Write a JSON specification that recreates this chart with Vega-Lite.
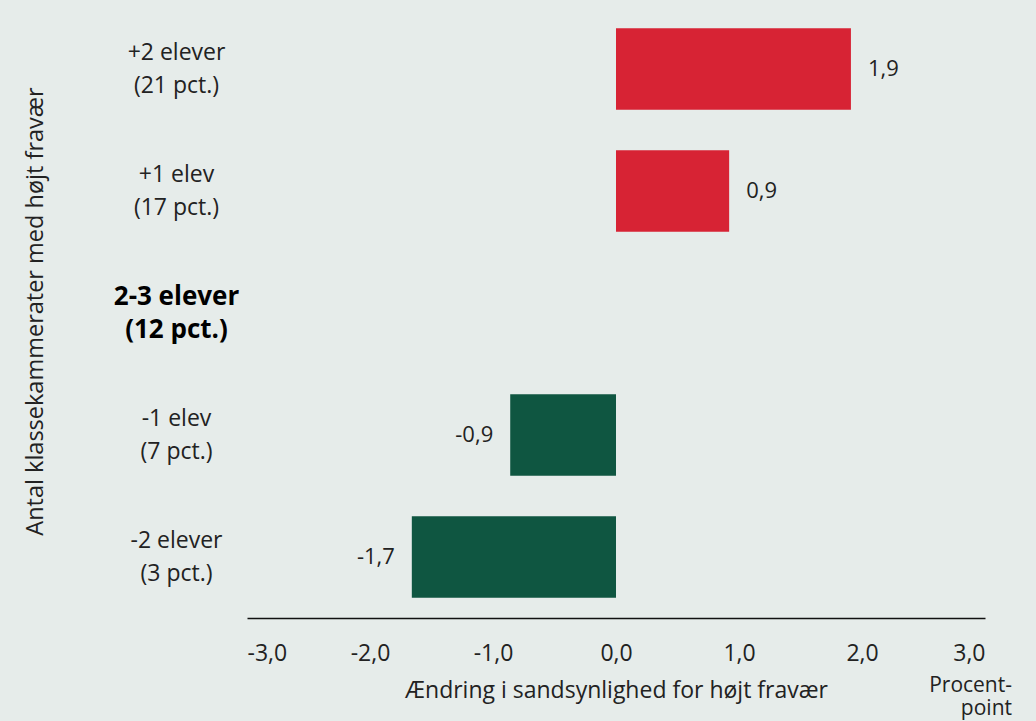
{
  "$schema": "https://vega.github.io/schema/vega-lite/v6.json",
  "width": 738,
  "height": 610,
  "autosize": {"type": "none"},
  "padding": {"left": 247, "top": 8, "right": 51, "bottom": 103},
  "background": "#e6ecea",
  "config": {
    "view": {"stroke": null},
    "font": "Open Sans",
    "locale": {"number": {"decimal": ",", "thousands": ".", "grouping": [3], "currency": ["", " kr."], "minus": "-"}}
  },
  "title": {
    "text": ["Procent-", "point"],
    "orient": "bottom",
    "anchor": "end",
    "align": "right",
    "dx": 27,
    "offset": -27,
    "fontSize": 21,
    "fontWeight": "normal",
    "color": "#222222",
    "lineHeight": 23
  },
  "data": {
    "values": [
      {"gruppe": "+2 elever|(21 pct.)", "aendring": 1.91},
      {"gruppe": "+1 elev|(17 pct.)", "aendring": 0.92},
      {"gruppe": "-1 elev|(7 pct.)", "aendring": -0.86},
      {"gruppe": "-2 elever|(3 pct.)", "aendring": -1.66}
    ]
  },
  "encoding": {
    "y": {
      "field": "gruppe",
      "type": "nominal",
      "sort": null,
      "scale": {
        "domain": ["+2 elever|(21 pct.)", "+1 elev|(17 pct.)", "2-3 elever|(12 pct.)", "-1 elev|(7 pct.)", "-2 elever|(3 pct.)"],
        "paddingInner": 0.33,
        "paddingOuter": 0.165
      },
      "axis": {
        "title": "Antal klassekammerater med højt fravær",
        "titleFontSize": 23.5,
        "titleFontWeight": "normal",
        "titleColor": "#222222",
        "titleX": -212,
        "titleY": 303,
        "titleAngle": -90,
        "titleAlign": "center",
        "titleBaseline": "middle",
        "domain": false,
        "ticks": false,
        "labelExpr": "split(datum.label, '|')",
        "labelAlign": "center",
        "labelBaseline": "middle",
        "labelPadding": 71,
        "labelOffset": -16,
        "labelLineHeight": 33,
        "labelFontSize": {"condition": {"test": "indexof(datum.value, '2-3') >= 0", "value": 26}, "value": 23},
        "labelFontWeight": {"condition": {"test": "indexof(datum.value, '2-3') >= 0", "value": "bold"}, "value": "normal"},
        "labelColor": {"condition": {"test": "indexof(datum.value, '2-3') >= 0", "value": "#000000"}, "value": "#222222"}
      }
    }
  },
  "layer": [
    {
      "mark": {"type": "bar"},
      "encoding": {
        "x": {
          "field": "aendring",
          "type": "quantitative",
          "scale": {"domain": [-3, 3], "nice": false},
          "axis": {
            "title": "Ændring i sandsynlighed for højt fravær",
            "titleFontSize": 23,
            "titleFontWeight": "normal",
            "titleColor": "#222222",
            "titlePadding": 14,
            "values": [-3, -2, -1, 0, 1, 2, 3],
            "format": ".1f",
            "grid": false,
            "ticks": false,
            "domainColor": "#111111",
            "domainWidth": 1.5,
            "labelFontSize": 23,
            "labelColor": "#222222",
            "labelPadding": 24
          }
        },
        "color": {
          "condition": {"test": "datum.aendring > 0", "value": "#d72334"},
          "value": "#0f5641"
        }
      }
    },
    {
      "mark": {"type": "rule", "color": "#333333", "strokeWidth": 1.5},
      "encoding": {"x": {"datum": 0}}
    },
    {
      "transform": [{"filter": "datum.aendring > 0"}],
      "mark": {"type": "text", "align": "left", "baseline": "middle", "dx": 17, "fontSize": 22, "color": "#222222"},
      "encoding": {
        "x": {"field": "aendring", "type": "quantitative"},
        "text": {"field": "aendring", "type": "quantitative", "format": ".1f"}
      }
    },
    {
      "transform": [{"filter": "datum.aendring < 0"}],
      "mark": {"type": "text", "align": "right", "baseline": "middle", "dx": -17, "fontSize": 22, "color": "#222222"},
      "encoding": {
        "x": {"field": "aendring", "type": "quantitative"},
        "text": {"field": "aendring", "type": "quantitative", "format": ".1f"}
      }
    }
  ]
}
